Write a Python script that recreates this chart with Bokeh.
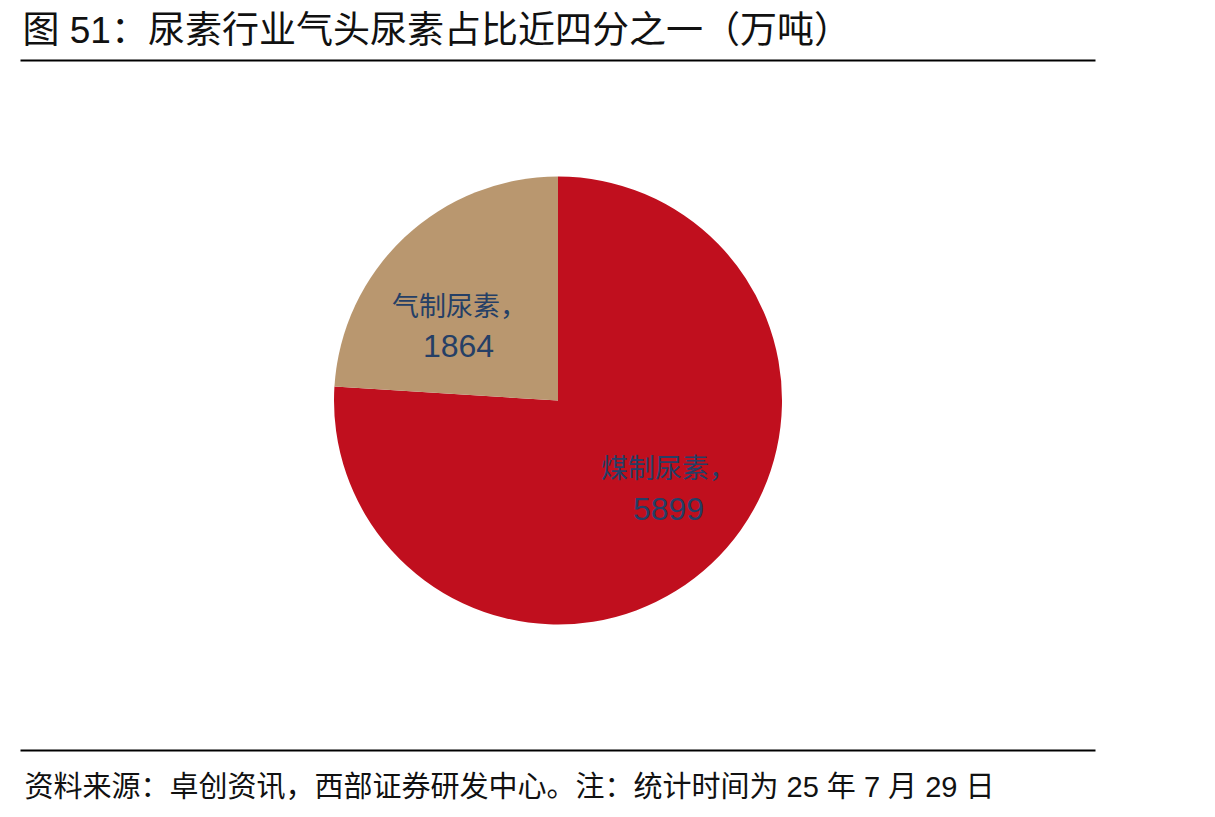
import numpy as np
from bokeh.plotting import figure
from bokeh.models import Range1d, ColumnDataSource
from bokeh.core.properties import value
from bokeh.embed import file_html
from bokeh.resources import INLINE

# ---- data ----
categories = ["煤制尿素", "气制尿素"]
values = [5899, 1864]
colors = ["#C00F1E", "#B9976F"]
title_text = "图 51：尿素行业气头尿素占比近四分之一（万吨）"
source_text = "资料来源：卓创资讯，西部证券研发中心。注：统计时间为 25 年 7 月 29 日"

# ---- layout (page pixel coordinates) ----
W, H = 1199, 809
PAGE_H = 817
def py(y):  # page y (down) -> data y (up)
    return PAGE_H - y

cx, cy, R = 557.5, 400, 224
label_name_xy = [(668, 466), (459, 304)]
label_val_xy = [(668, 508), (458, 345)]

CJK = "Noto Sans CJK SC"
MIX = "Liberation Sans, Noto Sans CJK SC"
LABEL_COLOR = "#253F66"

p = figure(width=W, height=H, output_backend="svg", toolbar_location=None,
           x_range=Range1d(0, W), y_range=Range1d(PAGE_H - H, PAGE_H),
           min_border=0, x_axis_location=None, y_axis_location=None,
           background_fill_color="white", border_fill_color="white",
           outline_line_color=None)
p.xgrid.visible = False
p.ygrid.visible = False

# wedges: start at 12 o'clock, clockwise
vals = np.array(values, dtype=float)
frac = vals / vals.sum()
cum = np.concatenate([[0], np.cumsum(frac)])
start = np.pi / 2 - 2 * np.pi * cum[:-1]
end = np.pi / 2 - 2 * np.pi * cum[1:]
src = ColumnDataSource(dict(start=start, end=end, color=colors))
p.wedge(x=cx, y=py(cy), radius=R, radius_units="screen",
        start_angle="start", end_angle="end", direction="clock",
        fill_color="color", line_color=None, source=src)

# labels
p.text(x=[xy[0] for xy in label_name_xy], y=[py(xy[1]) for xy in label_name_xy],
       text=[c + "，" for c in categories], text_font=value(CJK),
       text_font_size="27px", text_color=LABEL_COLOR,
       text_align="center", text_baseline="middle")
p.text(x=[xy[0] for xy in label_val_xy], y=[py(xy[1]) for xy in label_val_xy],
       text=[str(v) for v in values], text_font=value("Liberation Sans"),
       text_font_size="32px", text_color=LABEL_COLOR,
       text_align="center", text_baseline="middle")

# title and rules
p.text(x=[22], y=[py(30)], text=[title_text], text_font=value(MIX),
       text_font_size="37px", text_color="#111111",
       text_align="left", text_baseline="middle")
p.segment(x0=[20, 20], y0=[py(60), py(750)], x1=[1095, 1095], y1=[py(60), py(750)],
          line_color="black", line_width=2)
p.text(x=[24], y=[py(786)], text=[source_text], text_font=value(MIX),
       text_font_size="29px", text_color="#111111",
       text_align="left", text_baseline="middle")

open("out.html", "w").write(file_html(p, INLINE))
